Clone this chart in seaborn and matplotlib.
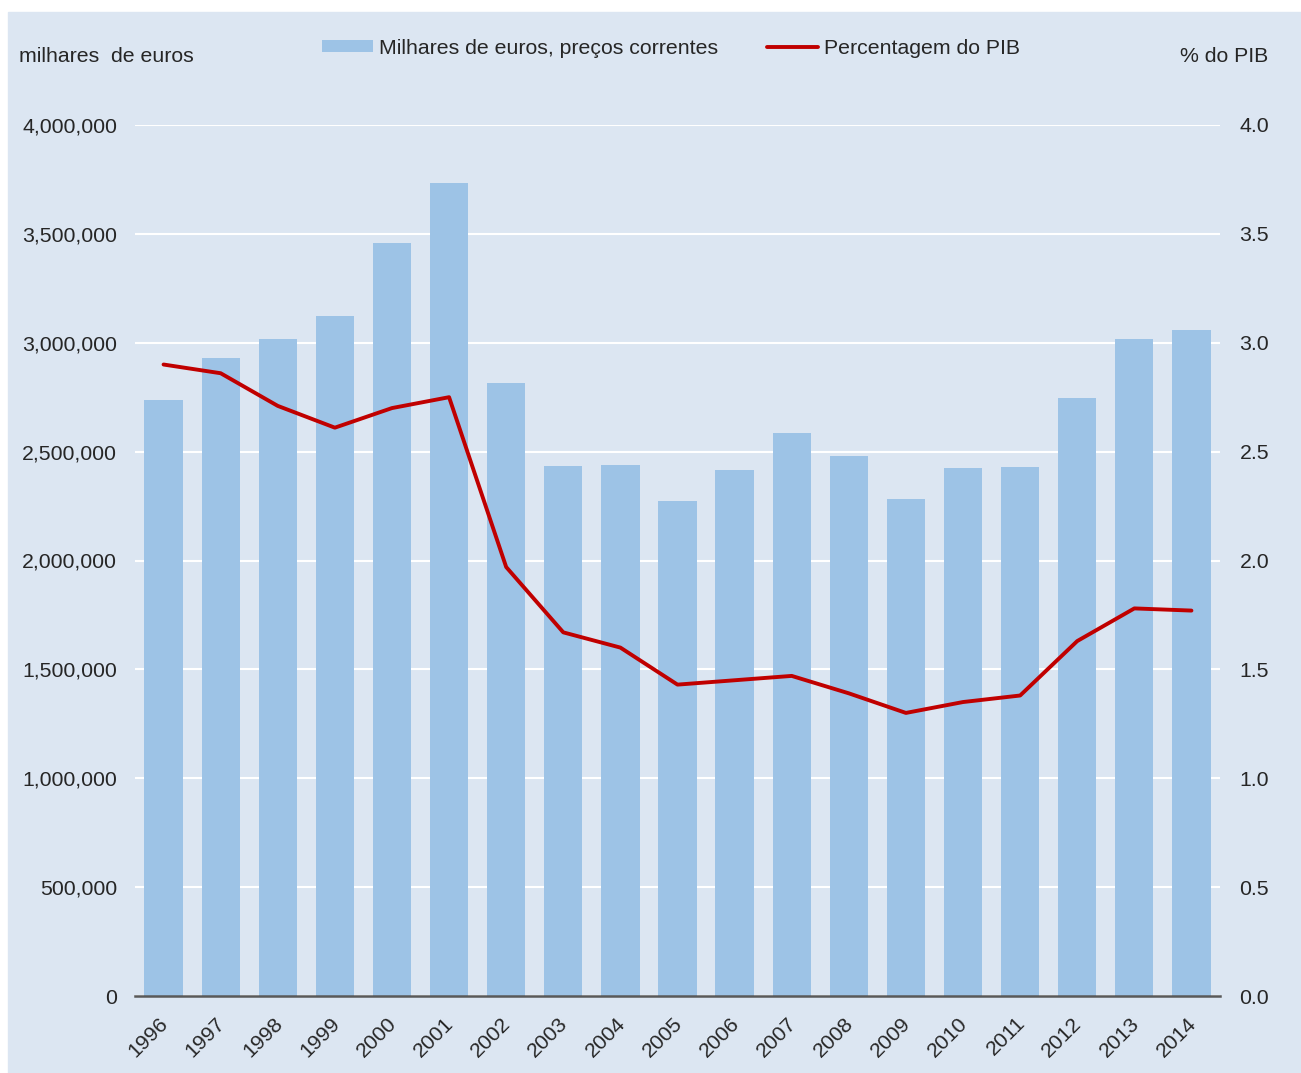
import numpy as np
import pandas as pd
import matplotlib.pyplot as plt
import matplotlib.ticker as mtick
import matplotlib.transforms as mtrans
from matplotlib.patches import Rectangle, Patch
from matplotlib.lines import Line2D
import seaborn as sns

sns.set_theme(style="white")
plt.rcParams["font.family"] = ["Liberation Sans", "DejaVu Sans"]

PANEL = "#dce6f2"
BAR = "#9dc3e6"
RED = "#c00000"
TEXT = "#262626"
FS = 15.3

years = [str(y) for y in range(1996, 2015)]
milhares = [2735000, 2930000, 3017000, 3123000, 3458000, 3734000, 2815000,
            2434000, 2439000, 2273000, 2416000, 2585000, 2480000, 2282000,
            2425000, 2429000, 2746000, 3017000, 3059000]
pct_pib = [2.90, 2.86, 2.71, 2.61, 2.70, 2.75, 1.97, 1.67, 1.60, 1.43,
           1.45, 1.47, 1.39, 1.30, 1.35, 1.38, 1.63, 1.78, 1.77]

df = pd.DataFrame({"ano": years, "milhares": milhares, "pct": pct_pib,
                   "pos": np.arange(len(years))})

W, H = 1301, 1073
fig = plt.figure(figsize=(W / 100, H / 100), dpi=100, facecolor="white")
fig.patches.append(Rectangle((8 / W, 0), 1 - 8 / W, 1 - 12 / H,
                             transform=fig.transFigure, color=PANEL, zorder=-10))

ax = fig.add_axes([135 / W, 77 / H, 1085 / W, 871 / H])
ax.set_facecolor(PANEL)
sns.barplot(data=df, x="ano", y="milhares", color=BAR, width=0.67,
            saturation=1, linewidth=0, ax=ax, zorder=2)
ax.set_ylim(0, 4000000)
ax.set_xlim(-0.5, len(years) - 0.5)
ax.yaxis.set_major_locator(mtick.MultipleLocator(500000))
ax.yaxis.set_major_formatter(mtick.FuncFormatter(lambda v, p: f"{v:,.0f}"))
ax.grid(axis="y", color="white", linewidth=1.5, zorder=0)
ax.set_axisbelow(True)
for s in ["top", "right", "left"]:
    ax.spines[s].set_visible(False)
ax.spines["bottom"].set_color("#595959")
ax.spines["bottom"].set_linewidth(1.8)
ax.spines["bottom"].set_zorder(5)
ax.set_xlabel("")
ax.set_ylabel("")
ax.tick_params(axis="y", length=0, pad=13, labelsize=FS, labelcolor=TEXT)
ax.tick_params(axis="x", length=0, pad=4, labelsize=FS, labelcolor=TEXT)
shift = mtrans.ScaledTranslation(-5 / 100, -12 / 100, fig.dpi_scale_trans)
for lbl in ax.get_xticklabels():
    lbl.set_rotation(45)
    lbl.set_ha("right")
    lbl.set_va("top")
    lbl.set_rotation_mode("anchor")
    lbl.set_transform(lbl.get_transform() + shift)

ax2 = ax.twinx()
sns.lineplot(data=df, x="pos", y="pct", color=RED, linewidth=2.8, ax=ax2)
ax2.set_ylim(0, 4.0)
ax2.set_xlim(-0.5, len(years) - 0.5)
ax2.yaxis.set_major_locator(mtick.MultipleLocator(0.5))
ax2.yaxis.set_major_formatter(mtick.FormatStrFormatter("%.1f"))
for s in ax2.spines.values():
    s.set_visible(False)
ax2.set_ylabel("")
ax2.set_xlabel("")
ax2.tick_params(axis="y", length=0, pad=14, labelsize=FS, labelcolor=TEXT)

fig.text(19 / W, 1 - 57 / H, "milhares  de euros", fontsize=FS, color=TEXT,
         ha="left", va="center")
fig.text(1268 / W, 1 - 57 / H, "% do PIB", fontsize=FS, color=TEXT,
         ha="right", va="center")

handles = [Patch(facecolor=BAR, edgecolor="none"),
           Line2D([0], [0], color=RED, linewidth=2.8)]
fig.legend(handles, ["Milhares de euros, preços correntes", "Percentagem do PIB"],
           loc="center", bbox_to_anchor=(671 / W, 1 - 48 / H), ncol=2,
           frameon=False, fontsize=FS, handlelength=2.4, handleheight=0.5,
           handletextpad=0.3, columnspacing=2.3, labelcolor=TEXT)

fig.savefig("out.png", dpi=100, facecolor="white")
